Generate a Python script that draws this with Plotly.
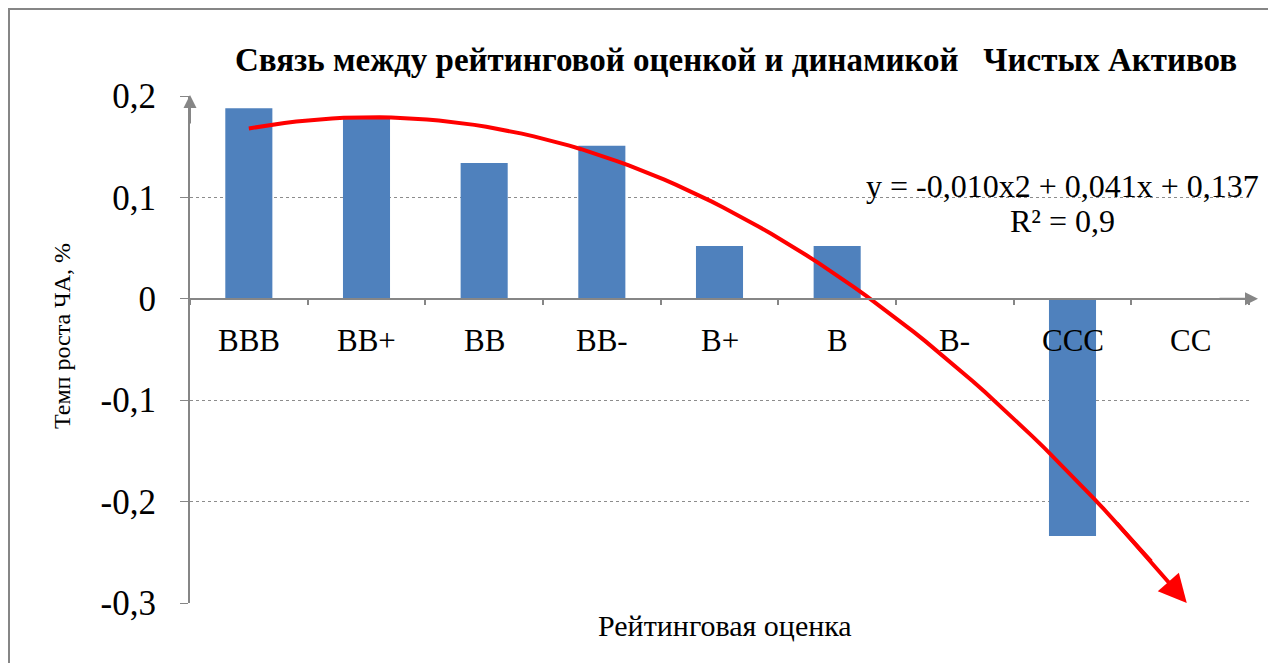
import numpy as np
import plotly.graph_objects as go

categories = ["BBB", "BB+", "BB", "BB-", "B+", "B", "B-", "CCC", "CC"]
growth = [0.188, 0.179, 0.134, 0.151, 0.052, 0.052, 0.0, -0.234, 0.0]
trend_coef = [-0.010, 0.041, 0.137]  # a*x^2 + b*x + c, x = 1..9 (Excel trendline)
ytick_vals = [-0.3, -0.2, -0.1, 0.0, 0.1, 0.2]
ytick_text = ["-0,3", "-0,2", "-0,1", "0", "0,1", "0,2"]

title = "Связь между рейтинговой оценкой и динамикой\u00a0\u00a0\u00a0Чистых Активов"
eq_text = "y = -0,010x2 + 0,041x + 0,137"
r2_text = "R² = 0,9"
x_title = "Рейтинговая оценка"
y_title = "Темп роста ЧА, %"

OFF = 8  # page body margin
W, H = 1276 - OFF, 663 - OFF
L, R, T, B = 182, 27, 88, 60
pw, ph = W - L - R, H - T - B


def px_x(p):
    return (p - OFF - L) / pw


def px_y(p):
    return (H - B - (p - OFF)) / ph


SERIF = "Liberation Serif, Times New Roman, serif"
GRAY = "#868686"

idx = list(range(len(categories)))

# trendline from displayed coefficients, drawn from x=1 to where it meets the axis minimum
a, b, c = trend_coef
ymin = ytick_vals[0]
x_end = (-b - np.sqrt(b * b - 4 * a * (c - ymin))) / (2 * a)
xs = np.linspace(1, x_end, 80)
ys = a * xs ** 2 + b * xs + c
xs_idx = xs - 1

fig = go.Figure()
fig.add_trace(go.Bar(x=idx, y=growth, width=0.4, marker=dict(color="#4F81BD", line=dict(width=0)),
                     showlegend=False))
fig.add_trace(go.Scatter(x=xs_idx[:-3], y=ys[:-3], mode="lines", line=dict(color="#FF0000", width=4),
                         showlegend=False))


def label(x, y, text, size, **kw):
    d = dict(x=x, y=y, xref="paper", yref="paper", text=text, showarrow=False,
             xanchor="center", yanchor="middle",
             font=dict(family=SERIF, size=size, color="#000000"))
    d.update(kw)
    return d


annotations = []
annotations.append(dict(x=xs_idx[-1], y=ys[-1], ax=xs_idx[-7], ay=ys[-7], xref="x", yref="y",
                        axref="x", ayref="y", showarrow=True, arrowhead=2, arrowsize=1.4,
                        arrowwidth=4, arrowcolor="#FF0000", text=""))
for i, cat in enumerate(categories):
    annotations.append(label(i, 0, cat, 31, xref="x", yref="y", yshift=-42))
annotations.append(dict(x=0, y=px_y(95), xref="paper", yref="paper", ax=0, ay=30,
                        showarrow=True, arrowhead=2, arrowsize=1.3, arrowwidth=2, arrowcolor=GRAY, text=""))
annotations.append(dict(x=px_x(1258), y=0, xref="paper", yref="y", ax=-40, ay=0,
                        showarrow=True, arrowhead=2, arrowsize=1.3, arrowwidth=2, arrowcolor=GRAY, text=""))
annotations.append(label(px_x(736), px_y(60), "<b>" + title + "</b>", 33))
annotations.append(label(px_x(1062), px_y(186), eq_text, 32))
annotations.append(label(px_x(1062), px_y(221), r2_text, 32))
annotations.append(label(px_x(725), px_y(625), x_title, 30))
annotations.append(label(px_x(62), px_y(336), y_title, 24, textangle=-90))

fig.update_layout(
    width=W, height=H,
    margin=dict(l=L, r=R, t=T, b=B, autoexpand=False),
    paper_bgcolor="white", plot_bgcolor="white",
    annotations=annotations,
    shapes=[dict(type="rect", xref="paper", yref="paper", x0=px_x(9), x1=px_x(1300),
                 y0=px_y(700), y1=px_y(9), line=dict(color=GRAY, width=2), layer="below")],
    xaxis=dict(range=[-0.5, 8.5], showgrid=False, zeroline=False, showticklabels=False,
               tickvals=[i - 0.5 for i in range(len(categories) + 1)], ticks="outside", ticklen=5,
               tickcolor=GRAY, tickwidth=2, anchor="free",
               position=(0 - ytick_vals[0]) / (ytick_vals[-1] - ytick_vals[0]),
               showline=True, linecolor=GRAY, linewidth=2),
    yaxis=dict(range=[ytick_vals[0], ytick_vals[-1]], tickvals=ytick_vals, ticktext=ytick_text,
               showgrid=True, gridcolor="#8c8c8c", griddash="dot", gridwidth=1,
               zeroline=False, showline=True, linecolor=GRAY, linewidth=2,
               ticks="outside", ticklen=8, tickcolor=GRAY, tickwidth=1,
               ticklabelstandoff=17,
               tickfont=dict(family=SERIF, size=35, color="#000000")),
)

fig.write_html("out.html")
